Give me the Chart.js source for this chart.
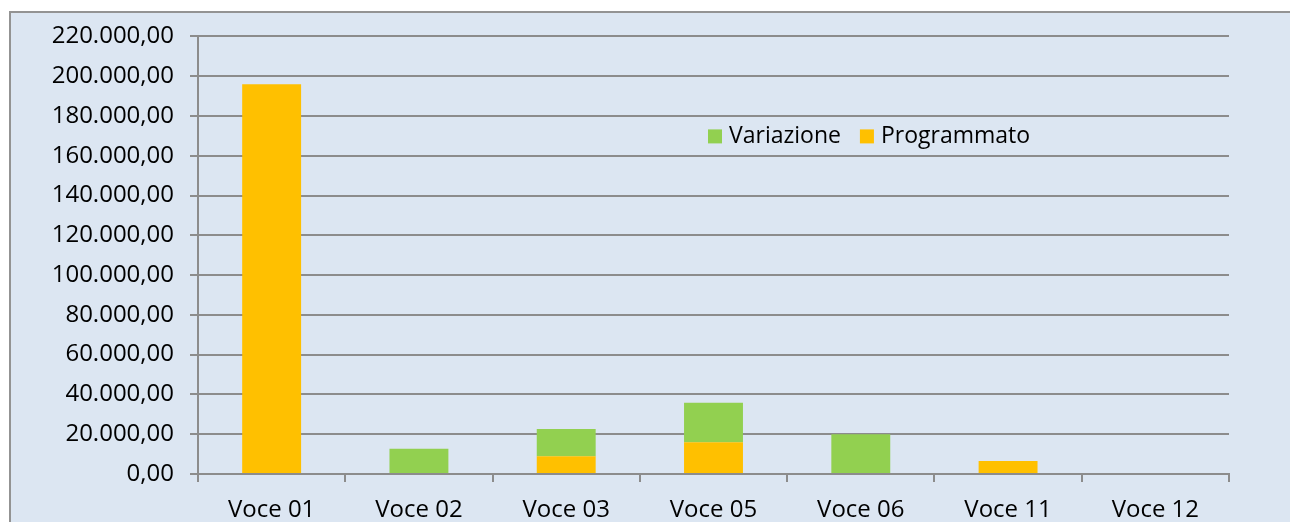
<!DOCTYPE html>
<html>
<head>
<meta charset="utf-8">
<script src="https://cdn.jsdelivr.net/npm/chart.js@4.4.1/dist/chart.umd.min.js"></script>
<style>
  body { margin: 0; background: #fff; overflow: hidden; width: 1290px; height: 522px; }
  #box { position: absolute; left: 9px; top: 11px; width: 1300px; height: 530px;
         border: 2px solid #939393; background: #dce6f2; }
  #wrap { position: absolute; left: 0; top: -7px; width: 1279px; height: 516px; }
</style>
</head>
<body>
<div id="box"><div id="wrap"><canvas id="myChart"></canvas></div></div>
<script>
var categorie = ['Voce 01', 'Voce 02', 'Voce 03', 'Voce 05', 'Voce 06', 'Voce 11', 'Voce 12'];
var programmato = [196000, 0, 8900, 16000, 0, 6500, 0];
var variazione = [0, 12700, 13750, 19800, 20000, 0, 0];
var yMax = 220000;
var yStep = 20000;

var gridColor = '#8c8c8c';
var fontFamily = '"Open Sans", sans-serif';

// formats numbers like 220.000,00
function formatIt(v){
  return v.toLocaleString('it-IT', {minimumFractionDigits: 2, maximumFractionDigits: 2});
}

// legend drawn inside the plot area, Variazione first
var innerLegend = {
  id: 'innerLegend',
  afterDraw: function(chart){
    var ctx = chart.ctx;
    var area = chart.chartArea;
    var x = area.left + 510;
    var y = area.top + 100;
    var items = [chart.data.datasets[1], chart.data.datasets[0]];
    ctx.save();
    ctx.font = '23px ' + fontFamily;
    ctx.textBaseline = 'middle';
    items.forEach(function(ds){
      ctx.fillStyle = ds.backgroundColor;
      ctx.fillRect(x, y - 7, 14, 14);
      ctx.fillStyle = '#000';
      ctx.fillText(ds.label, x + 21, y);
      x += 21 + ctx.measureText(ds.label).width + 19;
    });
    ctx.restore();
  }
};

new Chart(document.getElementById('myChart'), {
  type: 'bar',
  data: {
    labels: categorie,
    datasets: [{
      label: 'Programmato',
      data: programmato,
      backgroundColor: '#ffc000',
      barPercentage: 0.4,
      categoryPercentage: 1.0
    }, {
      label: 'Variazione',
      data: variazione,
      backgroundColor: '#92d050',
      barPercentage: 0.4,
      categoryPercentage: 1.0
    }]
  },
  options: {
    responsive: true,
    maintainAspectRatio: false,
    animation: false,
    layout: { padding: { top: 17, right: 61, left: 0, bottom: 0 } },
    plugins: {
      legend: { display: false },
      tooltip: { enabled: false }
    },
    scales: {
      x: {
        stacked: true,
        grid: { drawOnChartArea: false, color: gridColor, lineWidth: 2, tickLength: 8 },
        border: { color: gridColor, width: 2 },
        ticks: { color: '#000', font: { family: fontFamily, size: 24 }, padding: 14 },
        afterFit: function(scale){ scale.height = 48; }
      },
      y: {
        stacked: true,
        min: 0,
        max: yMax,
        grid: { color: gridColor, lineWidth: 2, tickLength: 8 },
        border: { color: gridColor, width: 2 },
        ticks: {
          stepSize: yStep,
          color: '#000',
          font: { family: fontFamily, size: 24 },
          padding: 16,
          callback: function(v){ return formatIt(v); }
        },
        afterFit: function(scale){ scale.width = 187; }
      }
    }
  },
  plugins: [innerLegend]
});
</script>
</body>
</html>
